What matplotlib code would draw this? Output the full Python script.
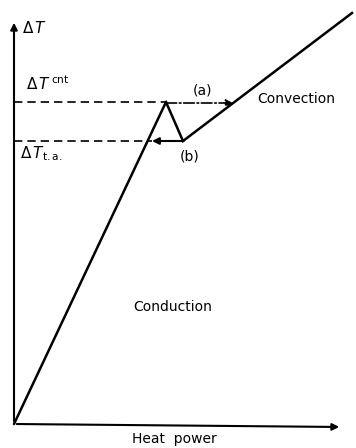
import matplotlib
matplotlib.use("Agg")
import matplotlib.pyplot as plt

# schematic data (heat power, delta T) in arbitrary units
cond_x = [0, 152]
cond_y = [0, 322]
drop_x = [152, 169]
drop_y = [322, 283]
conv_x = [169, 338]
conv_y = [283, 411]
dT_crit = 322
dT_ta = 283
jump_a_end = 219
jump_b_end = 138

fig = plt.figure(figsize=(3.56, 4.48), dpi=100)
ax = fig.add_axes([0, 0, 1, 1])
ax.set_xlim(-14, 342)
ax.set_ylim(-24, 424)
ax.axis("off")

lw = 1.8
ax.plot(cond_x, cond_y, color="black", lw=lw, solid_capstyle="round")
ax.plot(drop_x, drop_y, color="black", lw=lw)
ax.plot(conv_x, conv_y, color="black", lw=lw)

# axes arrows
ax.annotate("", xy=(0, 404), xytext=(0, 0),
            arrowprops=dict(arrowstyle="-|>", color="black", lw=1.5, mutation_scale=10))
ax.annotate("", xy=(328, -3), xytext=(0, 0),
            arrowprops=dict(arrowstyle="-|>", color="black", lw=1.5, mutation_scale=10))

# dashed levels
ax.plot([0, cond_x[1]], [dT_crit, dT_crit], color="black", lw=1.2, ls=(0, (5, 3)))
ax.plot([0, jump_b_end], [dT_ta, dT_ta], color="black", lw=1.2, ls=(0, (5, 3)))

# jumps
ax.annotate("", xy=(jump_a_end, dT_crit - 1), xytext=(drop_x[0], dT_crit - 1),
            arrowprops=dict(arrowstyle="-|>", color="black", lw=1.2, ls="-.",
                            mutation_scale=10, shrinkA=0, shrinkB=0))
ax.annotate("", xy=(jump_b_end, dT_ta), xytext=(drop_x[1], dT_ta),
            arrowprops=dict(arrowstyle="-|>", color="black", lw=1.5,
                            mutation_scale=10, shrinkA=0, shrinkB=0))

fs = 10
ax.text(8, 396, r"$\Delta\,T$", fontsize=fs + 1, ha="left", va="center")
ax.text(12, 340, r"$\Delta\,T^{\,\mathrm{cnt}}$", fontsize=fs + 1, ha="left", va="center")
ax.text(6, 270, r"$\Delta\,T_{\mathrm{t.a.}}$", fontsize=fs + 1, ha="left", va="center")
ax.text(188, 334, "(a)", fontsize=fs, ha="center", va="center")
ax.text(176, 268, "(b)", fontsize=fs, ha="center", va="center")
ax.text(243, 325, "Convection", fontsize=fs, ha="left", va="center")
ax.text(119, 117, "Conduction", fontsize=fs, ha="left", va="center")
ax.text(160, -15, "Heat  power", fontsize=fs, ha="center", va="center")

fig.savefig("out.png", dpi=100, facecolor="white")
